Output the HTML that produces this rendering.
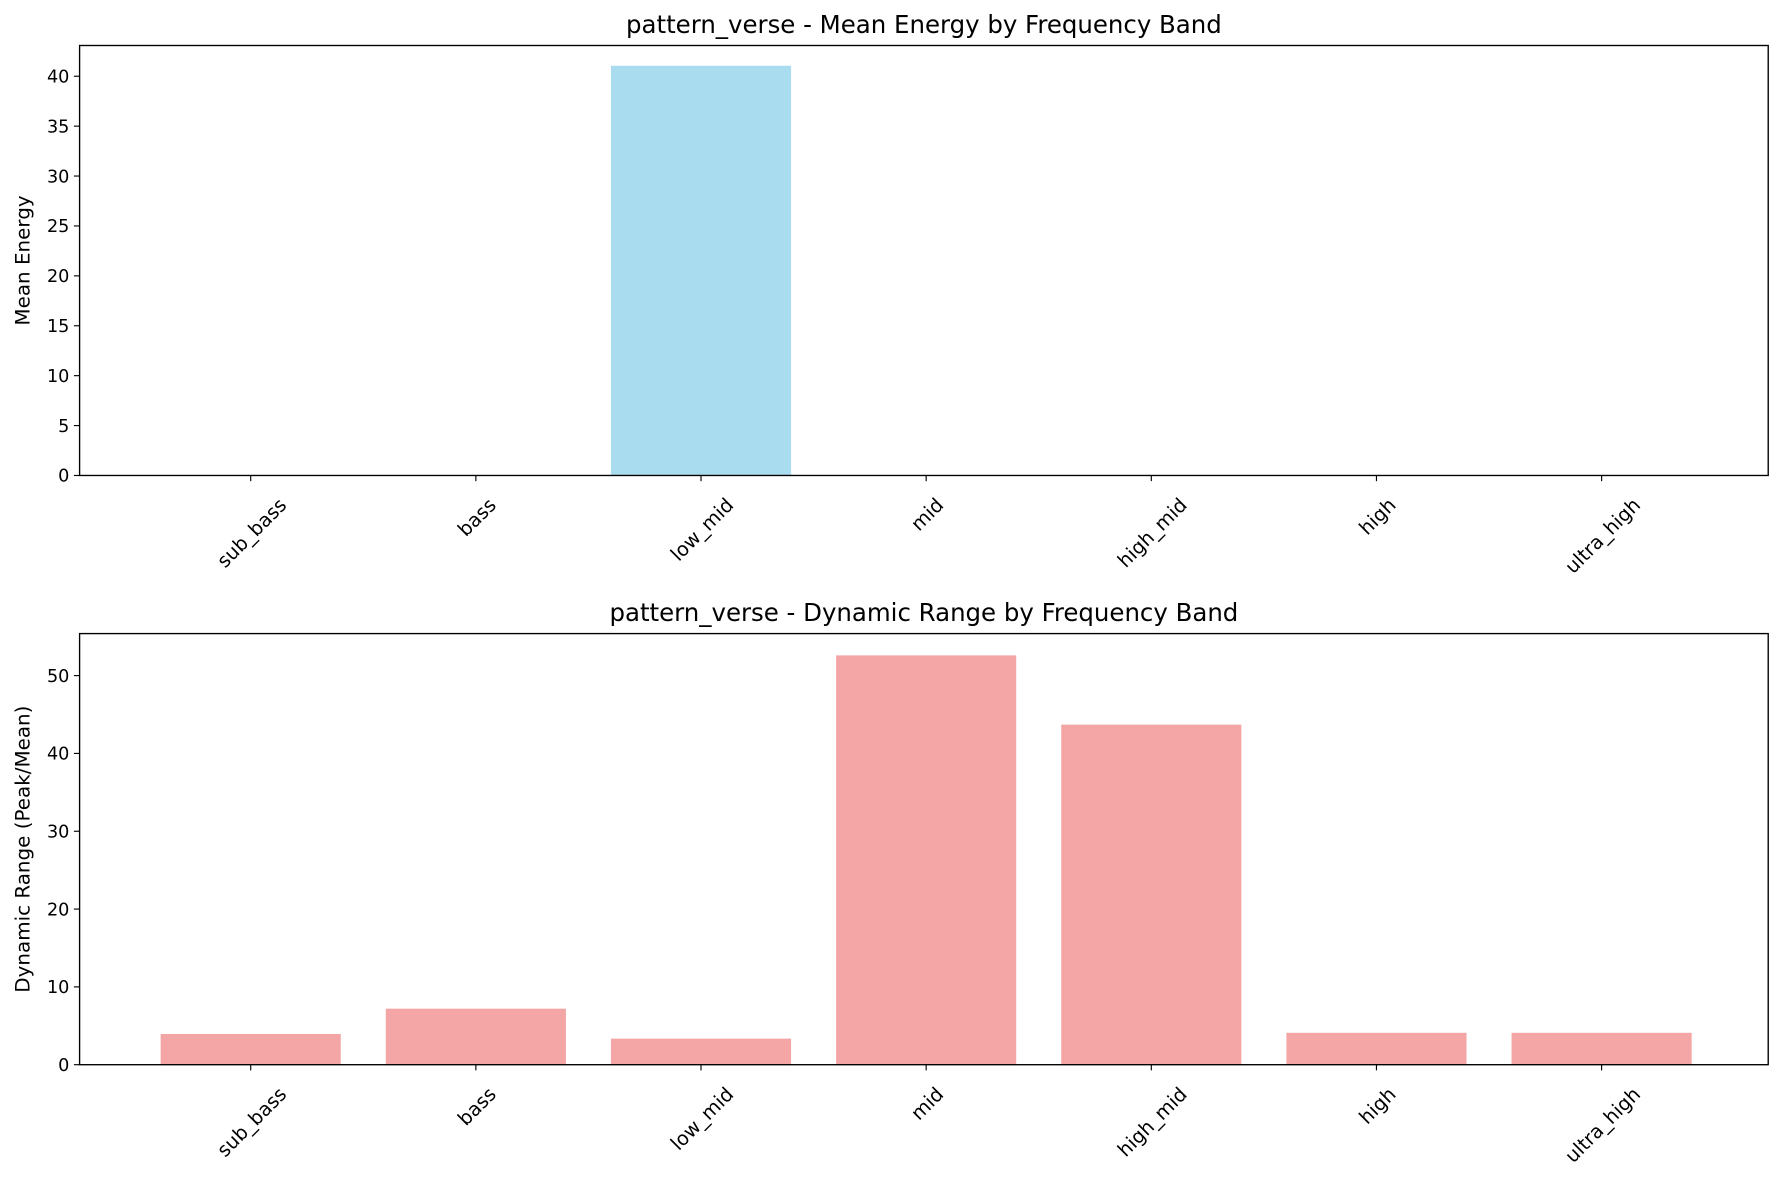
<!DOCTYPE html>
<html><head><meta charset="utf-8"><style>html,body{margin:0;padding:0;background:#fff}svg{display:block}text{font-family:"DejaVu Sans","Liberation Sans",sans-serif;fill:#000}</style></head>
<body>
<svg id="chart" width="1783" height="1183" viewBox="0 0 1568 1040" preserveAspectRatio="none" xmlns="http://www.w3.org/2000/svg"></svg>
<script>
const categories = ["sub_bass","bass","low_mid","mid","high_mid","high","ultra_high"];
const meanEnergy = [0,0,41.05,0,0,0,0];
const dynamicRange = [3.95,7.2,3.35,52.6,43.7,4.1,4.1];
const topTicks = [0,5,10,15,20,25,30,35,40];
const bottomTicks = [0,10,20,30,40,50];
const svg = document.getElementById('chart');
const NS = 'http://www.w3.org/2000/svg';
function mk(tag, attrs, parent){const e=document.createElementNS(NS,tag);for(const k in attrs)e.setAttribute(k,attrs[k]);(parent||svg).appendChild(e);return e;}
function panel(name, box, vals, ymax, ticks, color, title, ylabel){
  const g = mk('g',{});
  
  
  const x = i => box.x0 + (i + 0.76) / 7.5 * (box.x1 - box.x0);
  const bw = 0.8 / 7.5 * (box.x1 - box.x0);
  const y = v => box.y1 - v / ymax * (box.y1 - box.y0);
  vals.forEach((v,i)=>{
    if(v<=0) return;
    const r = mk('rect',{x:x(i)-bw/2,y:y(v),width:bw,height:y(0)-y(v),fill:color},g);
    
    
  });
  const f = mk('rect',{x:box.x0,y:box.y0,width:box.x1-box.x0,height:box.y1-box.y0,fill:'none',stroke:'#000','stroke-width':1.2},g);
  
  
  ticks.forEach(t=>{
    mk('line',{x1:box.x0-5,x2:box.x0,y1:y(t),y2:y(t),stroke:'#000'},g);
    const tx = mk('text',{x:box.x0-9,y:y(t)+5.5,'text-anchor':'end','font-size':15.5},g);
    tx.textContent = t;
    
    
  });
  categories.forEach((c,i)=>{
    mk('line',{x1:x(i),x2:x(i),y1:box.y1,y2:box.y1+5,stroke:'#000'},g);
    const tx = mk('text',{x:0,y:0,'text-anchor':'end','font-size':17},g);
    tx.textContent = c;
    
    
    const L = tx.getComputedTextLength();
    const d = L*0.7071/2;
    tx.setAttribute('transform',`translate(${x(i)+d+5},${box.y1+27}) rotate(-45)`);
  });
  const tt = mk('text',{x:(box.x0+box.x1)/2,y:box.y0-11,'text-anchor':'middle','font-size':21.5},g);
  tt.textContent = title;
  
  
  const yl = mk('text',{x:0,y:0,'text-anchor':'middle','font-size':17.5,transform:`translate(26,${(box.y0+box.y1)/2}) rotate(-90)`},g);
  yl.textContent = ylabel;
  
  
}
panel('mean-energy-panel',{x0:70,x1:1555,y0:40,y1:418},meanEnergy,43.08,topTicks,'#a9dcef','pattern_verse - Mean Energy by Frequency Band','Mean Energy');
panel('dynamic-range-panel',{x0:70,x1:1555,y0:557,y1:936},dynamicRange,55.4,bottomTicks,'#f4a6a6','pattern_verse - Dynamic Range by Frequency Band','Dynamic Range (Peak/Mean)');
</script>
</body></html>
